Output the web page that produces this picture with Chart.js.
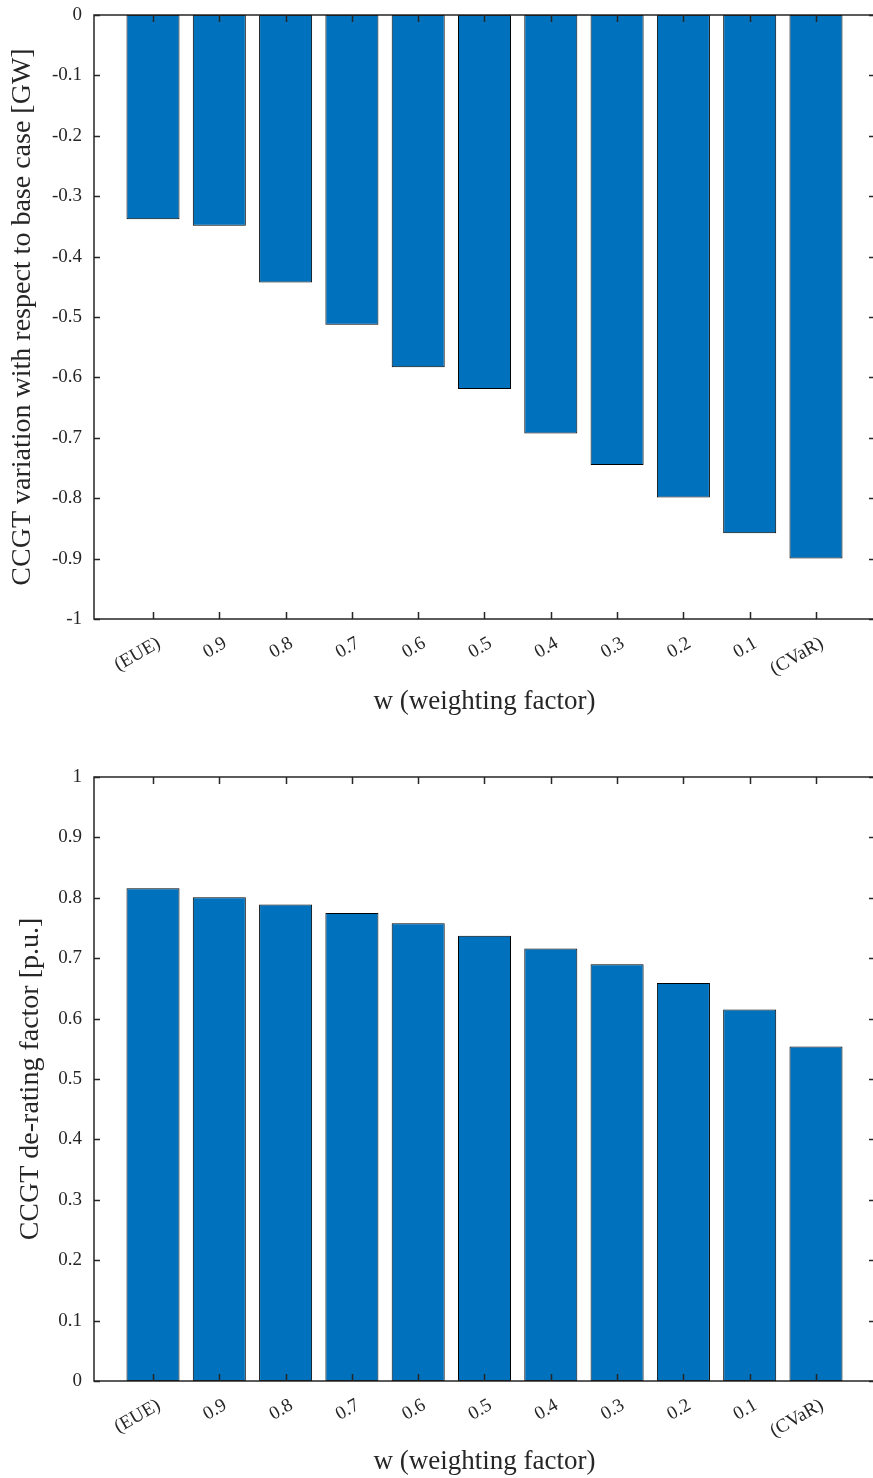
<!DOCTYPE html>
<html>
<head>
<meta charset="utf-8">
<script src="https://cdn.jsdelivr.net/npm/chart.js@4/dist/chart.umd.min.js"></script>
<style>
  html, body { margin: 0; padding: 0; background: #fff; overflow: hidden; width: 873px; height: 1478px; }
  .panel { position: absolute; left: 0; width: 880px; }
  #topPanel { top: 0; height: 740px; }
  #bottomPanel { top: 740px; height: 738px; }
</style>
</head>
<body>
<div class="panel" id="topPanel"><canvas id="variationChart"></canvas></div>
<div class="panel" id="bottomPanel"><canvas id="deratingChart"></canvas></div>
<script>
// Weighting-factor categories, from pure EUE to pure CVaR
const categories = ['(EUE)', '0.9', '0.8', '0.7', '0.6', '0.5', '0.4', '0.3', '0.2', '0.1', '(CVaR)'];

// CCGT capacity change relative to the base case [GW]
const ccgtVariation = [-0.338, -0.349, -0.443, -0.513, -0.583, -0.619, -0.693, -0.745, -0.799, -0.858, -0.900];

// CCGT de-rating factor [p.u.]
const deratingFactor = [0.816, 0.801, 0.789, 0.775, 0.758, 0.737, 0.716, 0.690, 0.659, 0.615, 0.554];

// Y tick values
const variationTicks = [0, -0.1, -0.2, -0.3, -0.4, -0.5, -0.6, -0.7, -0.8, -0.9, -1];
const deratingTicks = [0, 0.1, 0.2, 0.3, 0.4, 0.5, 0.6, 0.7, 0.8, 0.9, 1];

const AXIS_COLOR = '#262626';
const BAR_COLOR = '#0072BD';
const FONT_FAMILY = '"Liberation Serif", "Times New Roman", serif';
Chart.defaults.font.family = FONT_FAMILY;
Chart.defaults.color = AXIS_COLOR;

// Boxed axes with inward tick marks, drawn over the bars,
// plus category labels rotated 30 degrees and anchored just right of each tick
const boxAxes = {
  id: 'boxAxes',
  afterDatasetsDraw(chart) {
    const { ctx, chartArea: { left, right, top, bottom }, scales: { x, y } } = chart;
    ctx.save();
    ctx.strokeStyle = AXIS_COLOR;
    ctx.lineWidth = 1.5;
    ctx.beginPath();
    x.ticks.forEach(t => {
      const px = Math.round(x.getPixelForValue(t.value)) + 0.5;
      ctx.moveTo(px, bottom); ctx.lineTo(px, bottom - 7);
      ctx.moveTo(px, top); ctx.lineTo(px, top + 7);
    });
    y.ticks.forEach(t => {
      const py = Math.round(y.getPixelForValue(t.value)) + 0.5;
      ctx.moveTo(left, py); ctx.lineTo(left + 6, py);
      ctx.moveTo(right, py); ctx.lineTo(right - 6, py);
    });
    ctx.stroke();
    ctx.strokeRect(left, top, right - left, bottom - top);

    ctx.fillStyle = AXIS_COLOR;
    ctx.font = '19px ' + FONT_FAMILY;
    ctx.textAlign = 'right';
    ctx.textBaseline = 'middle';
    x.ticks.forEach(t => {
      const px = x.getPixelForValue(t.value);
      ctx.save();
      ctx.translate(px + 6, bottom + 23);
      ctx.rotate(-Math.PI / 6);
      ctx.fillText(categories[Math.round(t.value) - 1], 0, 0);
      ctx.restore();
    });
    ctx.restore();
  }
};

function fmtTick(v) {
  const s = (Math.round(v * 10) / 10).toFixed(1);
  if (s === '0.0' || s === '-0.0') return '0';
  if (s === '1.0') return '1';
  if (s === '-1.0') return '-1';
  return s;
}

function makeChart(canvasId, values, yTicks, yMin, yMax, yTitle, opts) {
  return new Chart(document.getElementById(canvasId), {
    type: 'bar',
    data: {
      datasets: [{
        data: values.map((v, i) => ({ x: i + 1, y: v })),
        backgroundColor: BAR_COLOR,
        borderColor: '#000000',
        borderWidth: 1,
        borderSkipped: false,
        categoryPercentage: 1,
        barPercentage: 0.8
      }]
    },
    options: {
      responsive: true,
      maintainAspectRatio: false,
      animation: false,
      layout: { padding: { top: opts.padTop, right: 5, bottom: 0, left: 0 } },
      plugins: { legend: { display: false }, tooltip: { enabled: false } },
      scales: {
        x: {
          type: 'linear',
          min: 0.11,
          max: 11.89,
          offset: false,
          bounds: 'data',
          grid: { display: false, drawTicks: false },
          border: { display: false },
          afterBuildTicks: s => { s.ticks = categories.map((_, i) => ({ value: i + 1 })); },
          afterFit: s => { s.height = opts.xHeight; s.paddingLeft = 0; s.paddingRight = 0; },
          ticks: { display: false },
          title: {
            display: true,
            text: 'w (weighting factor)',
            font: { size: 27 },
            color: AXIS_COLOR,
            padding: { top: 0, bottom: opts.xTitlePad }
          }
        },
        y: {
          min: yMin,
          max: yMax,
          grid: { display: false, drawTicks: false },
          border: { display: false },
          afterBuildTicks: s => { s.ticks = yTicks.map(v => ({ value: v })); },
          afterFit: s => { s.width = 94; s.paddingTop = 0; s.paddingBottom = 0; },
          ticks: {
            padding: 12,
            font: { size: 19 },
            color: AXIS_COLOR,
            callback: v => fmtTick(v)
          },
          title: {
            display: true,
            text: yTitle,
            font: { size: 28 },
            color: AXIS_COLOR,
            padding: { top: opts.yTitlePad, bottom: 0 }
          }
        }
      }
    },
    plugins: [boxAxes]
  });
}

makeChart('variationChart', ccgtVariation, variationTicks, -1, 0,
  'CCGT variation with respect to base case [GW]',
  { padTop: 15, xHeight: 121, xTitlePad: 22, yTitlePad: 6 });

makeChart('deratingChart', deratingFactor, deratingTicks, 0, 1,
  'CCGT de-rating factor [p.u.]',
  { padTop: 37, xHeight: 97, xTitlePad: 0, yTitlePad: 14 });
</script>
</body>
</html>
